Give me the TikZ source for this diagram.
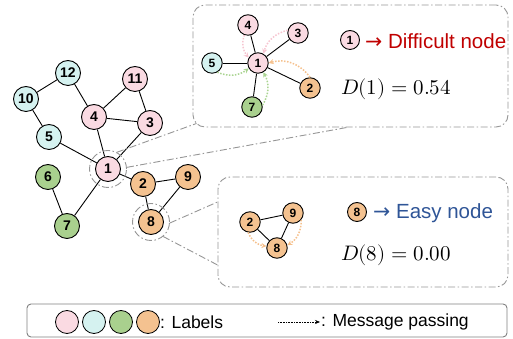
\documentclass[tikz,border=0pt]{standalone}
\usepackage{fontspec}
\usepackage{unicode-math}
\setmainfont{Liberation Sans}
\newfontfamily\arrowfont{DejaVu Sans}
\usetikzlibrary{arrows.meta}
\definecolor{cpink}{RGB}{250,218,226}
\definecolor{ccyan}{RGB}{213,242,240}
\definecolor{cgreen}{RGB}{169,208,142}
\definecolor{corange}{RGB}{244,194,144}
\definecolor{mpink}{RGB}{246,196,208}
\definecolor{mgreen}{RGB}{170,212,145}
\definecolor{morange}{RGB}{245,192,140}
\definecolor{cgray}{RGB}{150,150,150}
\definecolor{diffred}{RGB}{192,0,0}
\definecolor{easyblue}{RGB}{47,85,151}

\begin{document}
\begin{tikzpicture}[x=1pt,y=1pt,
		vtx/.style={circle,draw=black,line width=0.9pt,minimum size=25pt,inner sep=0pt,font=\fontsize{14}{14}\selectfont\bfseries},
		svtx/.style={vtx,minimum size=20.5pt,font=\fontsize{12}{12}\selectfont\bfseries},
		pk/.style={fill=cpink}, cy/.style={fill=ccyan}, gr/.style={fill=cgreen}, og/.style={fill=corange},
		link/.style={line width=0.9pt},
		dashdot/.style={draw=cgray,line width=0.9pt,dash pattern=on 7pt off 2.5pt on 1.5pt off 2.5pt},
		msg/.style={line width=1.5pt,dash pattern=on 1.5pt off 1.5pt,-{Stealth[length=5pt,width=5pt]}},
		lbl/.style={anchor=west,inner sep=0pt}]
		\useasboundingbox (0,0) rectangle (513,339);
		% boxes
		\node[dashdot,rounded corners=12pt,minimum width=315pt,minimum height=122pt,inner sep=0pt] (topbox) at (350.5,273) {};
		\node[dashdot,rounded corners=12pt,minimum width=290pt,minimum height=110pt,inner sep=0pt] (botbox) at (363,107) {};
		\node[draw=gray,line width=0.9pt,rounded corners=4pt,minimum width=480pt,minimum height=33pt,inner sep=0pt] (legend) at (267,18.5) {};
		% main graph
		\node[vtx,cy] (n12) at (68,266) {12};
		\node[vtx,cy] (n10) at (26,240) {10};
		\node[vtx,pk] (n11) at (135,260) {11};
		\node[vtx,pk] (n4) at (94,222) {4};
		\node[vtx,pk] (n3) at (150,216) {3};
		\node[vtx,cy] (n5) at (49,202) {5};
		\node[vtx,pk] (n1) at (108,170) {1};
		\node[vtx,gr] (n6) at (48,162) {6};
		\node[vtx,og] (n2) at (143,155) {2};
		\node[vtx,og] (n9) at (188,162) {9};
		\node[vtx,og] (n8) at (151,117) {8};
		\node[vtx,gr] (n7) at (67,113) {7};
		\draw[link] (n12) -- (n10);
		\draw[link] (n12) -- (n4);
		\draw[link] (n10) -- (n5);
		\draw[link] (n5) -- (n1);
		\draw[link] (n4) -- (n1);
		\draw[link] (n4) -- (n11);
		\draw[link] (n4) -- (n3);
		\draw[link] (n11) -- (n3);
		\draw[link] (n3) -- (n1);
		\draw[link] (n1) -- (n7);
		\draw[link] (n6) -- (n7);
		\draw[link] (n1) -- (n2);
		\draw[link] (n2) -- (n9);
		\draw[link] (n2) -- (n8);
		\draw[link] (n9) -- (n8);
		% zoom marks
		\node[circle,dashdot,minimum size=37pt] (f1) at (n1) {};
		\node[circle,dashdot,minimum size=37pt] (f8) at (n8) {};
		\draw[dashdot] (f1.62) -- ([shift={(4,4)}]topbox.south west);
		\draw[dashdot] (f1.5) -- ([xshift=-3.5pt]topbox.south);
		\draw[dashdot] (f8.-3) -- ([yshift=30pt]botbox.west);
		\draw[dashdot] (f8.-50) -- ([yshift=-33pt]botbox.west);
		% difficult node
		\node[svtx,pk] (s4) at (248,314) {4};
		\node[svtx,pk] (s3) at (298,306) {3};
		\node[svtx,pk] (s1) at (258,276) {1};
		\node[svtx,cy] (s5) at (212,276) {5};
		\node[svtx,og] (s2) at (310,251) {2};
		\node[svtx,gr] (s7) at (252,232) {7};
		\foreach \v in {s4,s3,s5,s2,s7}
			\draw[link] (s1) -- (\v);
		\draw[msg,mpink] (s4.250) to[bend right=30] (s1.150);
		\draw[msg,mpink] (s3.165) to[bend right=30] (s1.60);
		\draw[msg,morange] (s2.90) to[bend right=35] (s1.0);
		\draw[msg,mgreen] (s5.-60) to[bend right=30] (s1.210);
		\draw[msg,mgreen] (s7.10) to[bend right=30] (s1.-60);
		\node[svtx,pk,minimum size=19pt] (k1) at (350,299) {1};
		\node[lbl,text=diffred,font=\fontsize{20.5}{20.5}\selectfont] (t1) at (365,298) {{\arrowfont →} Difficult node};
		\node[lbl,font=\fontsize{21}{21}\selectfont] (d1) at (341,250) {$D(1) = 0.54$};
		% easy node
		\node[svtx,og] (b2) at (250,117) {2};
		\node[svtx,og] (b9) at (293,126) {9};
		\node[svtx,og] (b8) at (277,91) {8};
		\draw[link] (b2) -- (b9);
		\draw[link] (b2) -- (b8);
		\draw[link] (b9) -- (b8);
		\draw[msg,morange] (b2.-100) to[bend right=30] (b8.170);
		\draw[msg,morange] (b9.-40) to[bend left=30] (b8.15);
		\node[svtx,og,minimum size=19pt] (k8) at (357,127) {8};
		\node[lbl,text=easyblue,font=\fontsize{20.5}{20.5}\selectfont] (t8) at (373,126) {{\arrowfont →} Easy node};
		\node[lbl,font=\fontsize{21}{21}\selectfont] (d8) at (341,84) {$D(8) = 0.00$};
		% legend
		\node[circle,draw=black,line width=0.8pt,minimum size=23pt,fill=cpink] (c1) at (67,17) {};
		\node[circle,draw=black,line width=0.8pt,minimum size=23pt,fill=ccyan] (c2) at (94,17) {};
		\node[circle,draw=black,line width=0.8pt,minimum size=23pt,fill=cgreen] (c3) at (121,17) {};
		\node[circle,draw=black,line width=0.8pt,minimum size=23pt,fill=corange] (c4) at (148,17) {};
		\node[lbl,font=\fontsize{17.5}{17.5}\selectfont] (lab) at (160,17) {: Labels};
		\coordinate (ma) at (278,17);
		\coordinate (mb) at (320,17);
		\draw[line width=0.6pt,dash pattern=on 0.8pt off 0.8pt,-{Stealth[length=5pt,width=4pt]}] (ma) -- (mb);
		\node[lbl,font=\fontsize{17.5}{17.5}\selectfont] (mp) at (321,17) {: Message passing};
\end{tikzpicture}
\end{document}
